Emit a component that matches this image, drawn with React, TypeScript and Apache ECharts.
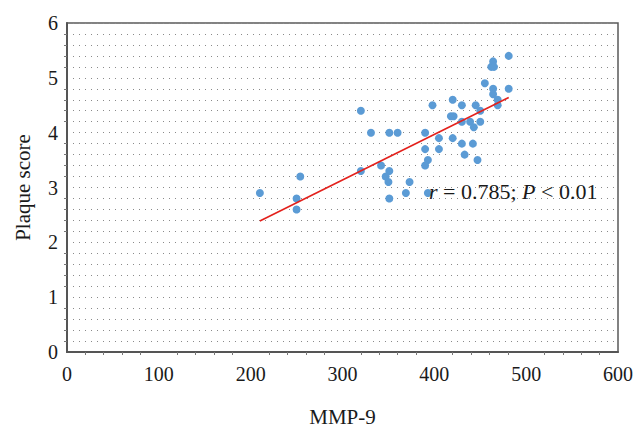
import React, { useEffect, useRef } from "react";
import * as echarts from "echarts";

const mmp9 = [
  320, 331, 351, 360, 342, 320, 351, 347, 254, 350, 373, 210, 369, 250, 351, 250,
  481, 464, 462, 465, 455, 464, 481, 464, 469, 469, 420, 398, 430, 445, 450, 418,
  421, 430, 439, 450, 443, 390, 420, 405, 390, 405, 430, 442, 433, 447, 393, 390, 393,
];
const plaque = [
  4.4, 4.0, 4.0, 4.0, 3.4, 3.3, 3.3, 3.2, 3.2, 3.1, 3.1, 2.9, 2.9, 2.8, 2.8, 2.6,
  5.4, 5.3, 5.2, 5.2, 4.9, 4.8, 4.8, 4.7, 4.6, 4.5, 4.6, 4.5, 4.5, 4.5, 4.4, 4.3,
  4.3, 4.2, 4.2, 4.2, 4.1, 4.0, 3.9, 3.9, 3.7, 3.7, 3.8, 3.8, 3.6, 3.5, 3.5, 3.4, 2.9,
];
const trendX = [210, 481];
const trendY = [2.39, 4.64];
const xTicks = [0, 100, 200, 300, 400, 500, 600];
const yTicks = [0, 1, 2, 3, 4, 5, 6];

const FONT = "'Liberation Serif', 'DejaVu Serif', serif";

export default function App() {
  const ref = useRef<HTMLDivElement>(null);
  useEffect(() => {
    if (!ref.current) return;
    const chart = echarts.init(ref.current, null, { renderer: "svg" });
    const dotted = { color: "#8a8a8a", width: 1, type: [1, 5] as number[] };
    chart.setOption({
      animation: false,
      grid: {
        left: 67, right: 26, top: 23, bottom: 70.5,
        show: true, borderColor: "#5a5a5a", borderWidth: 1.5, backgroundColor: "#ffffff",
      },
      xAxis: {
        type: "value",
        min: xTicks[0], max: xTicks[xTicks.length - 1], interval: 100,
        name: "MMP-9", nameLocation: "middle", nameGap: 54,
        nameTextStyle: { fontFamily: FONT, fontSize: 21, color: "#1a1a1a" },
        axisLine: { show: true, lineStyle: { color: "#555555", width: 2 } },
        axisTick: { show: false },
        minorTick: { show: true, splitNumber: 5, length: 3, lineStyle: { color: "#777" } },
        axisLabel: { fontFamily: FONT, fontSize: 20, color: "#1a1a1a", margin: 12 },
        splitLine: { show: false },
      },
      yAxis: {
        type: "value",
        min: yTicks[0], max: yTicks[yTicks.length - 1], interval: 1,
        name: "Plaque score", nameLocation: "middle", nameGap: 34,
        nameTextStyle: { fontFamily: FONT, fontSize: 21, color: "#1a1a1a" },
        axisLine: { show: true, lineStyle: { color: "#555555", width: 2 } },
        axisTick: { show: false },
        minorTick: { show: true, splitNumber: 5, length: 3, lineStyle: { color: "#777" } },
        axisLabel: { fontFamily: FONT, fontSize: 20, color: "#1a1a1a", margin: 9 },
        splitLine: { show: true, lineStyle: dotted },
        minorSplitLine: { show: true, lineStyle: dotted },
      },
      series: [
        {
          type: "scatter",
          data: mmp9.map((x, i) => [x, plaque[i]]),
          symbolSize: 8,
          itemStyle: { color: "#5b9bd5", opacity: 1 },
          z: 3,
        },
        {
          type: "line",
          data: trendX.map((x, i) => [x, trendY[i]]),
          symbol: "none",
          lineStyle: { color: "#e3211c", width: 1.6 },
          z: 4,
        },
      ],
      graphic: [
        {
          type: "text",
          left: 429,
          top: 180,
          z: 10,
          style: {
            text: "{i|r} = 0.785; {i|P} < 0.01",
            fontFamily: FONT,
            fontSize: 22,
            fill: "#1a1a1a",
            rich: {
              i: { fontStyle: "italic", fontFamily: FONT, fontSize: 22, fill: "#1a1a1a" },
            },
          },
        },
      ],
    });
    return () => chart.dispose();
  }, []);
  return <div ref={ref} style={{ width: 644, height: 432, position: "absolute", left: 0, top: 0 }} />;
}
